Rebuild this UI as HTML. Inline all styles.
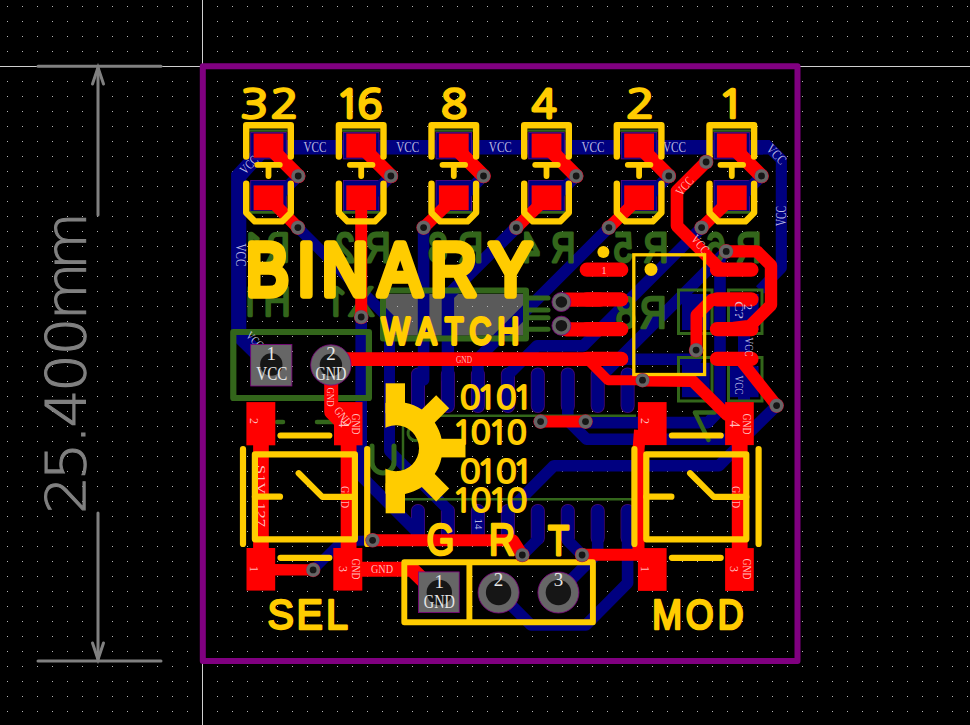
<!DOCTYPE html>
<html><head><meta charset="utf-8"><title>Binary Watch PCB</title>
<style>html,body{margin:0;padding:0;background:#000;overflow:hidden}svg{display:block;font-family:"Liberation Sans",sans-serif}</style>
</head><body>
<svg width="970" height="725" viewBox="0 0 970 725">
<rect width="970" height="725" fill="#000"/>
<defs><pattern id="g" x="202" y="66" width="15" height="15" patternUnits="userSpaceOnUse"><rect x="0" y="0" width="1" height="1" fill="#b4b4b4"/></pattern></defs>
<rect x="385.5" y="294.0" width="62.0" height="41.6" fill="#5A5A5A" />
<rect x="454.0" y="294.0" width="69.2" height="41.6" fill="#5A5A5A" />
<rect width="970" height="725" fill="url(#g)"/>
<rect x="202" y="0" width="1" height="66" fill="#cfcfcf"/><rect x="202" y="661" width="1" height="64" fill="#cfcfcf"/>
<rect x="0" y="66" width="202" height="1" fill="#cfcfcf"/><rect x="798" y="66" width="172" height="1" fill="#cfcfcf"/>
<g id="blue">
<polyline points="418.0,374.5 418.0,406.0" fill="none" stroke="#4a0a7a" stroke-width="14" stroke-linecap="round" stroke-linejoin="round" />
<polyline points="418.0,511.0 418.0,538.0" fill="none" stroke="#4a0a7a" stroke-width="14" stroke-linecap="round" stroke-linejoin="round" />
<polyline points="447.9,374.5 447.9,406.0" fill="none" stroke="#4a0a7a" stroke-width="14" stroke-linecap="round" stroke-linejoin="round" />
<polyline points="447.9,511.0 447.9,538.0" fill="none" stroke="#4a0a7a" stroke-width="14" stroke-linecap="round" stroke-linejoin="round" />
<polyline points="477.9,374.5 477.9,406.0" fill="none" stroke="#4a0a7a" stroke-width="14" stroke-linecap="round" stroke-linejoin="round" />
<polyline points="477.9,511.0 477.9,538.0" fill="none" stroke="#4a0a7a" stroke-width="14" stroke-linecap="round" stroke-linejoin="round" />
<polyline points="507.9,374.5 507.9,406.0" fill="none" stroke="#4a0a7a" stroke-width="14" stroke-linecap="round" stroke-linejoin="round" />
<polyline points="507.9,511.0 507.9,538.0" fill="none" stroke="#4a0a7a" stroke-width="14" stroke-linecap="round" stroke-linejoin="round" />
<polyline points="537.8,374.5 537.8,406.0" fill="none" stroke="#4a0a7a" stroke-width="14" stroke-linecap="round" stroke-linejoin="round" />
<polyline points="537.8,511.0 537.8,538.0" fill="none" stroke="#4a0a7a" stroke-width="14" stroke-linecap="round" stroke-linejoin="round" />
<polyline points="567.8,374.5 567.8,406.0" fill="none" stroke="#4a0a7a" stroke-width="14" stroke-linecap="round" stroke-linejoin="round" />
<polyline points="567.8,511.0 567.8,538.0" fill="none" stroke="#4a0a7a" stroke-width="14" stroke-linecap="round" stroke-linejoin="round" />
<polyline points="597.7,374.5 597.7,406.0" fill="none" stroke="#4a0a7a" stroke-width="14" stroke-linecap="round" stroke-linejoin="round" />
<polyline points="597.7,511.0 597.7,538.0" fill="none" stroke="#4a0a7a" stroke-width="14" stroke-linecap="round" stroke-linejoin="round" />
<polyline points="627.6,374.5 627.6,406.0" fill="none" stroke="#4a0a7a" stroke-width="14" stroke-linecap="round" stroke-linejoin="round" />
<polyline points="627.6,511.0 627.6,538.0" fill="none" stroke="#4a0a7a" stroke-width="14" stroke-linecap="round" stroke-linejoin="round" />
<polyline points="260.5,147.2 763.0,147.2" fill="none" stroke="#000080" stroke-width="14.5" stroke-linecap="butt" stroke-linejoin="round" />
<polygon points="755,140 769.7,140 786.9,157.3 786.9,172 775.8,172 775.8,162 768.4,154.6 755,154.6" fill="#000080"/>
<polyline points="781.3,170.0 781.3,268.0 760.0,290.0" fill="none" stroke="#000080" stroke-width="11.1" stroke-linecap="butt" stroke-linejoin="round" />
<polyline points="262.5,150.0 238.7,176.0 238.7,335.0 268.0,364.0" fill="none" stroke="#000080" stroke-width="15.2" stroke-linecap="butt" stroke-linejoin="miter" />
<rect x="250.7" y="132.4" width="35.6" height="26.5" fill="#000080" stroke="#5a0a8a" stroke-width="0.8"/>
<rect x="250.7" y="180.4" width="35.6" height="31.5" fill="#000080" stroke="#5a0a8a" stroke-width="0.8"/>
<polyline points="298.2,176.0 274.5,199.7" fill="none" stroke="#000080" stroke-width="11.6" stroke-linecap="round" stroke-linejoin="round" />
<rect x="343.4" y="132.4" width="35.6" height="26.5" fill="#000080" stroke="#5a0a8a" stroke-width="0.8"/>
<rect x="343.4" y="180.4" width="35.6" height="31.5" fill="#000080" stroke="#5a0a8a" stroke-width="0.8"/>
<polyline points="390.9,176.0 367.2,199.7" fill="none" stroke="#000080" stroke-width="11.6" stroke-linecap="round" stroke-linejoin="round" />
<rect x="436.0" y="132.4" width="35.6" height="26.5" fill="#000080" stroke="#5a0a8a" stroke-width="0.8"/>
<rect x="436.0" y="180.4" width="35.6" height="31.5" fill="#000080" stroke="#5a0a8a" stroke-width="0.8"/>
<polyline points="483.5,176.0 459.8,199.7" fill="none" stroke="#000080" stroke-width="11.6" stroke-linecap="round" stroke-linejoin="round" />
<rect x="528.7" y="132.4" width="35.6" height="26.5" fill="#000080" stroke="#5a0a8a" stroke-width="0.8"/>
<rect x="528.7" y="180.4" width="35.6" height="31.5" fill="#000080" stroke="#5a0a8a" stroke-width="0.8"/>
<polyline points="576.2,176.0 552.5,199.7" fill="none" stroke="#000080" stroke-width="11.6" stroke-linecap="round" stroke-linejoin="round" />
<rect x="621.3" y="132.4" width="35.6" height="26.5" fill="#000080" stroke="#5a0a8a" stroke-width="0.8"/>
<rect x="621.3" y="180.4" width="35.6" height="31.5" fill="#000080" stroke="#5a0a8a" stroke-width="0.8"/>
<polyline points="668.8,176.0 645.1,199.7" fill="none" stroke="#000080" stroke-width="11.6" stroke-linecap="round" stroke-linejoin="round" />
<rect x="714.0" y="132.4" width="35.6" height="26.5" fill="#000080" stroke="#5a0a8a" stroke-width="0.8"/>
<rect x="714.0" y="180.4" width="35.6" height="31.5" fill="#000080" stroke="#5a0a8a" stroke-width="0.8"/>
<polyline points="761.5,176.0 737.8,199.7" fill="none" stroke="#000080" stroke-width="11.6" stroke-linecap="round" stroke-linejoin="round" />
<polyline points="297.9,227.6 389.5,319.2 389.5,451.0 447.9,509.5 447.9,520.0" fill="none" stroke="#000080" stroke-width="11" stroke-linecap="round" stroke-linejoin="round" />
<polyline points="361.2,317.0 361.2,476.0 414.5,529.3 418.0,533.0" fill="none" stroke="#000080" stroke-width="11.6" stroke-linecap="round" stroke-linejoin="round" />
<polyline points="423.6,227.6 423.6,380.0" fill="none" stroke="#000080" stroke-width="11.6" stroke-linecap="round" stroke-linejoin="round" />
<polyline points="516.3,227.6 447.9,295.3 447.9,380.0" fill="none" stroke="#000080" stroke-width="12.4" stroke-linecap="round" stroke-linejoin="round" />
<polyline points="608.9,227.6 477.9,358.6 477.9,385.0" fill="none" stroke="#000080" stroke-width="11.6" stroke-linecap="round" stroke-linejoin="round" />
<polyline points="701.6,227.6 583.3,345.9 537.0,345.9 507.9,375.0 507.9,385.0" fill="none" stroke="#000080" stroke-width="11.6" stroke-linecap="round" stroke-linejoin="round" />
<polyline points="726.2,251.4 600.0,377.6 597.7,380.0" fill="none" stroke="#000080" stroke-width="11.6" stroke-linecap="round" stroke-linejoin="round" />
<polyline points="720.0,262.0 720.0,410.0 708.0,422.6 585.4,422.6" fill="none" stroke="#000080" stroke-width="11.6" stroke-linecap="round" stroke-linejoin="round" />
<polyline points="418.0,374.5 418.0,406.0" fill="none" stroke="#000080" stroke-width="12.5" stroke-linecap="round" stroke-linejoin="round" />
<polyline points="418.0,511.0 418.0,538.0" fill="none" stroke="#000080" stroke-width="12.5" stroke-linecap="round" stroke-linejoin="round" />
<polyline points="447.9,374.5 447.9,406.0" fill="none" stroke="#000080" stroke-width="12.5" stroke-linecap="round" stroke-linejoin="round" />
<polyline points="447.9,511.0 447.9,538.0" fill="none" stroke="#000080" stroke-width="12.5" stroke-linecap="round" stroke-linejoin="round" />
<polyline points="477.9,374.5 477.9,406.0" fill="none" stroke="#000080" stroke-width="12.5" stroke-linecap="round" stroke-linejoin="round" />
<polyline points="477.9,511.0 477.9,538.0" fill="none" stroke="#000080" stroke-width="12.5" stroke-linecap="round" stroke-linejoin="round" />
<polyline points="507.9,374.5 507.9,406.0" fill="none" stroke="#000080" stroke-width="12.5" stroke-linecap="round" stroke-linejoin="round" />
<polyline points="507.9,511.0 507.9,538.0" fill="none" stroke="#000080" stroke-width="12.5" stroke-linecap="round" stroke-linejoin="round" />
<polyline points="537.8,374.5 537.8,406.0" fill="none" stroke="#000080" stroke-width="12.5" stroke-linecap="round" stroke-linejoin="round" />
<polyline points="537.8,511.0 537.8,538.0" fill="none" stroke="#000080" stroke-width="12.5" stroke-linecap="round" stroke-linejoin="round" />
<polyline points="567.8,374.5 567.8,406.0" fill="none" stroke="#000080" stroke-width="12.5" stroke-linecap="round" stroke-linejoin="round" />
<polyline points="567.8,511.0 567.8,538.0" fill="none" stroke="#000080" stroke-width="12.5" stroke-linecap="round" stroke-linejoin="round" />
<polyline points="597.7,374.5 597.7,406.0" fill="none" stroke="#000080" stroke-width="12.5" stroke-linecap="round" stroke-linejoin="round" />
<polyline points="597.7,511.0 597.7,538.0" fill="none" stroke="#000080" stroke-width="12.5" stroke-linecap="round" stroke-linejoin="round" />
<polyline points="627.6,374.5 627.6,406.0" fill="none" stroke="#000080" stroke-width="12.5" stroke-linecap="round" stroke-linejoin="round" />
<polyline points="627.6,511.0 627.6,538.0" fill="none" stroke="#000080" stroke-width="12.5" stroke-linecap="round" stroke-linejoin="round" />
<polyline points="342.0,541.0 313.0,570.0" fill="none" stroke="#000080" stroke-width="10" stroke-linecap="round" stroke-linejoin="round" />
<polyline points="342.0,541.0 372.6,540.5" fill="none" stroke="#000080" stroke-width="10" stroke-linecap="round" stroke-linejoin="round" />
<rect x="682.0" y="294.0" width="27.7" height="36.0" fill="#000080" />
<rect x="729.7" y="294.0" width="28.9" height="36.0" fill="#000080" />
<rect x="682.0" y="362.8" width="27.7" height="34.4" fill="#000080" />
<rect x="729.7" y="366.2" width="28.9" height="31.0" fill="#000080" />
<polyline points="744.0,320.0 744.0,438.0" fill="none" stroke="#000080" stroke-width="12" stroke-linecap="round" stroke-linejoin="round" />
<polyline points="600.0,359.3 696.1,359.3 696.1,350.0" fill="none" stroke="#000080" stroke-width="11.6" stroke-linecap="round" stroke-linejoin="round" />
<polyline points="567.8,406.0 567.8,420.4 586.5,439.2 742.7,439.2 776.5,405.8" fill="none" stroke="#000080" stroke-width="11.6" stroke-linecap="round" stroke-linejoin="round" />
<polyline points="735.0,449.5 719.0,465.7 554.0,465.7 507.9,512.0" fill="none" stroke="#000080" stroke-width="11.6" stroke-linecap="round" stroke-linejoin="round" />
<polyline points="498.6,592.5 531.0,625.0 586.0,625.0 627.6,583.0 627.6,511.0" fill="none" stroke="#000080" stroke-width="11.6" stroke-linecap="round" stroke-linejoin="round" />
<polyline points="558.4,592.5 597.7,553.2 597.7,511.0" fill="none" stroke="#000080" stroke-width="11.6" stroke-linecap="round" stroke-linejoin="round" />
<polyline points="522.3,555.0 537.8,539.5 537.8,511.0" fill="none" stroke="#000080" stroke-width="11.6" stroke-linecap="round" stroke-linejoin="round" />
<polyline points="582.1,555.0 567.8,540.6 567.8,511.0" fill="none" stroke="#000080" stroke-width="11.6" stroke-linecap="round" stroke-linejoin="round" />
</g>
<g id="green">
<rect x="233.3" y="332" width="135.6" height="66" fill="none" stroke="#33661B" stroke-width="6.2" stroke-linejoin="round"/>
<rect x="383" y="290.5" width="143" height="48" fill="none" stroke="#33661B" stroke-width="6" stroke-linejoin="round"/>
<polyline points="527.0,297.9 548.0,297.9" fill="none" stroke="#33661B" stroke-width="5" stroke-linecap="round" stroke-linejoin="round" />
<polyline points="527.0,310.0 548.0,310.0" fill="none" stroke="#33661B" stroke-width="5" stroke-linecap="round" stroke-linejoin="round" />
<polyline points="527.0,317.7 548.0,317.7" fill="none" stroke="#33661B" stroke-width="5" stroke-linecap="round" stroke-linejoin="round" />
<polyline points="527.0,329.3 548.0,329.3" fill="none" stroke="#33661B" stroke-width="5" stroke-linecap="round" stroke-linejoin="round" />
<polyline points="249.5,130.6 287.5,130.6" fill="none" stroke="#33661B" stroke-width="2.2" stroke-linecap="butt" stroke-linejoin="round" />
<polyline points="249.5,212.4 287.5,212.4" fill="none" stroke="#33661B" stroke-width="2.6" stroke-linecap="butt" stroke-linejoin="round" />
<polyline points="342.2,130.6 380.2,130.6" fill="none" stroke="#33661B" stroke-width="2.2" stroke-linecap="butt" stroke-linejoin="round" />
<polyline points="342.2,212.4 380.2,212.4" fill="none" stroke="#33661B" stroke-width="2.6" stroke-linecap="butt" stroke-linejoin="round" />
<polyline points="434.8,130.6 472.8,130.6" fill="none" stroke="#33661B" stroke-width="2.2" stroke-linecap="butt" stroke-linejoin="round" />
<polyline points="434.8,212.4 472.8,212.4" fill="none" stroke="#33661B" stroke-width="2.6" stroke-linecap="butt" stroke-linejoin="round" />
<polyline points="527.5,130.6 565.5,130.6" fill="none" stroke="#33661B" stroke-width="2.2" stroke-linecap="butt" stroke-linejoin="round" />
<polyline points="527.5,212.4 565.5,212.4" fill="none" stroke="#33661B" stroke-width="2.6" stroke-linecap="butt" stroke-linejoin="round" />
<polyline points="620.1,130.6 658.1,130.6" fill="none" stroke="#33661B" stroke-width="2.2" stroke-linecap="butt" stroke-linejoin="round" />
<polyline points="620.1,212.4 658.1,212.4" fill="none" stroke="#33661B" stroke-width="2.6" stroke-linecap="butt" stroke-linejoin="round" />
<polyline points="712.8,130.6 750.8,130.6" fill="none" stroke="#33661B" stroke-width="2.2" stroke-linecap="butt" stroke-linejoin="round" />
<polyline points="712.8,212.4 750.8,212.4" fill="none" stroke="#33661B" stroke-width="2.6" stroke-linecap="butt" stroke-linejoin="round" />
<text transform="scale(-1.0000,1)" x="-290.72 -264.05" y="261.5" font-family="NanumGothic,'Liberation Sans',sans-serif" font-size="39.4" fill="#33661B" stroke="#33661B" stroke-width="2.65" stroke-linejoin="round" stroke-linecap="round">R1</text>
<text transform="scale(-0.8141,1)" x="-479.71 -435.87" y="261.7" font-size="43.1" fill="#33661B" stroke="#33661B" stroke-width="2.77" stroke-linejoin="round" stroke-linecap="round">R2</text>
<text transform="scale(-0.8011,1)" x="-602.91 -558.32" y="261.7" font-size="43.0" fill="#33661B" stroke="#33661B" stroke-width="2.83" stroke-linejoin="round" stroke-linecap="round">R3</text>
<text transform="scale(-0.7810,1)" x="-736.54 -690.92" y="261.6" font-size="42.8" fill="#33661B" stroke="#33661B" stroke-width="2.94" stroke-linejoin="round" stroke-linecap="round">R4</text>
<text transform="scale(-0.8011,1)" x="-834.26 -789.75" y="261.7" font-size="43.0" fill="#33661B" stroke="#33661B" stroke-width="2.83" stroke-linejoin="round" stroke-linecap="round">R5</text>
<text transform="scale(-0.8100,1)" x="-939.70 -895.81" y="261.7" font-size="43.0" fill="#33661B" stroke="#33661B" stroke-width="2.79" stroke-linejoin="round" stroke-linecap="round">R6</text>
<text transform="scale(-0.8544,1)" x="-780.09 -744.75" y="327.7" font-size="43.5" fill="#33661B" stroke="#33661B" stroke-width="2.56" stroke-linejoin="round" stroke-linecap="round">R8</text>
<text transform="scale(-1.0000,1)" x="-291.48 -263.35" y="315.8" font-family="NanumGothic,'Liberation Sans',sans-serif" font-size="39.4" fill="#33661B" stroke="#33661B" stroke-width="2.65" stroke-linejoin="round" stroke-linecap="round">H1</text>
<text transform="scale(-1.0000,1)" x="-374.47 -349.10" y="315.8" font-family="NanumGothic,'Liberation Sans',sans-serif" font-size="39.4" fill="#33661B" stroke="#33661B" stroke-width="2.65" stroke-linejoin="round" stroke-linecap="round">X1</text>
<polyline points="403.0,415.7 636.0,415.7" fill="none" stroke="#33661B" stroke-width="2.5" stroke-linecap="butt" stroke-linejoin="round" />
<polyline points="403.0,499.3 636.0,499.3" fill="none" stroke="#33661B" stroke-width="2.5" stroke-linecap="butt" stroke-linejoin="round" />
<polyline points="403.0,414.5 403.0,500.5" fill="none" stroke="#33661B" stroke-width="2.5" stroke-linecap="butt" stroke-linejoin="round" />
<path d="M411,427 a7,7 0 0 0 9,12" fill="none" stroke="#33661B" stroke-width="3"/>
<polyline points="277.0,422.0 283.0,422.0" fill="none" stroke="#33661B" stroke-width="4.5" stroke-linecap="round" stroke-linejoin="round" />
<polyline points="317.0,422.0 333.0,422.0" fill="none" stroke="#33661B" stroke-width="4.5" stroke-linecap="round" stroke-linejoin="round" />
<path d="M372,446 V462 a11,11 0 0 0 22,0 V446" fill="none" stroke="#33661B" stroke-width="5" stroke-linecap="round"/>
<rect x="678.5" y="290" width="33.5" height="43.5" fill="none" stroke="#33661B" stroke-width="3"/>
<rect x="678.5" y="357.5" width="33.5" height="43.5" fill="none" stroke="#33661B" stroke-width="3"/>
<rect x="728.5" y="290" width="33.5" height="43.5" fill="none" stroke="#33661B" stroke-width="3"/>
<rect x="728.5" y="357.5" width="33.5" height="43.5" fill="none" stroke="#33661B" stroke-width="3"/>
<polyline points="694.9,412.6 714.7,412.6" fill="none" stroke="#33661B" stroke-width="4.5" stroke-linecap="round" stroke-linejoin="round" />
<polyline points="695.5,413.5 708.5,440.0" fill="none" stroke="#33661B" stroke-width="4.5" stroke-linecap="round" stroke-linejoin="round" />
</g>
<g id="red">
<rect x="253.6" y="133.5" width="29.8" height="24.2" fill="#FF0000" />
<rect x="253.6" y="185.4" width="29.8" height="24.8" fill="#FF0000" />
<polyline points="270.5,148.3 298.2,176.0" fill="none" stroke="#FF0000" stroke-width="14.3" stroke-linecap="round" stroke-linejoin="round" />
<rect x="346.3" y="133.5" width="29.8" height="24.2" fill="#FF0000" />
<rect x="346.3" y="185.4" width="29.8" height="24.8" fill="#FF0000" />
<polyline points="363.2,148.3 390.9,176.0" fill="none" stroke="#FF0000" stroke-width="14.3" stroke-linecap="round" stroke-linejoin="round" />
<rect x="438.9" y="133.5" width="29.8" height="24.2" fill="#FF0000" />
<rect x="438.9" y="185.4" width="29.8" height="24.8" fill="#FF0000" />
<polyline points="455.8,148.3 483.5,176.0" fill="none" stroke="#FF0000" stroke-width="14.3" stroke-linecap="round" stroke-linejoin="round" />
<rect x="531.6" y="133.5" width="29.8" height="24.2" fill="#FF0000" />
<rect x="531.6" y="185.4" width="29.8" height="24.8" fill="#FF0000" />
<polyline points="548.5,148.3 576.2,176.0" fill="none" stroke="#FF0000" stroke-width="14.3" stroke-linecap="round" stroke-linejoin="round" />
<rect x="624.2" y="133.5" width="29.8" height="24.2" fill="#FF0000" />
<rect x="624.2" y="185.4" width="29.8" height="24.8" fill="#FF0000" />
<polyline points="641.1,148.3 668.8,176.0" fill="none" stroke="#FF0000" stroke-width="14.3" stroke-linecap="round" stroke-linejoin="round" />
<rect x="716.9" y="133.5" width="29.8" height="24.2" fill="#FF0000" />
<rect x="716.9" y="185.4" width="29.8" height="24.8" fill="#FF0000" />
<polyline points="733.8,148.3 761.5,176.0" fill="none" stroke="#FF0000" stroke-width="14.3" stroke-linecap="round" stroke-linejoin="round" />
<polyline points="271.5,201.0 297.9,227.6" fill="none" stroke="#FF0000" stroke-width="12.2" stroke-linecap="round" stroke-linejoin="round" />
<polyline points="361.2,200.0 361.2,317.0" fill="none" stroke="#FF0000" stroke-width="12" stroke-linecap="butt" stroke-linejoin="round" />
<polyline points="450.8,201.0 423.6,227.6" fill="none" stroke="#FF0000" stroke-width="12.2" stroke-linecap="round" stroke-linejoin="round" />
<polyline points="543.5,201.0 516.3,227.6" fill="none" stroke="#FF0000" stroke-width="12.2" stroke-linecap="round" stroke-linejoin="round" />
<polyline points="636.1,201.0 608.9,227.6" fill="none" stroke="#FF0000" stroke-width="12.2" stroke-linecap="round" stroke-linejoin="round" />
<polyline points="728.8,201.0 701.6,227.6" fill="none" stroke="#FF0000" stroke-width="12.2" stroke-linecap="round" stroke-linejoin="round" />
<polyline points="347.0,359.1 600.0,359.1 621.0,359.1" fill="none" stroke="#FF0000" stroke-width="13.6" stroke-linecap="round" stroke-linejoin="round" />
<polyline points="331.2,380.0 331.2,412.0 345.0,426.0" fill="none" stroke="#FF0000" stroke-width="14" stroke-linecap="butt" stroke-linejoin="round" />
<rect x="246.4" y="402.1" width="28.9" height="43.2" fill="#FF0000" />
<rect x="334.0" y="402.1" width="28.5" height="43.2" fill="#FF0000" />
<rect x="246.5" y="548.0" width="28.7" height="42.6" fill="#FF0000" />
<rect x="333.3" y="548.0" width="29.0" height="42.6" fill="#FF0000" />
<rect x="253.1" y="445.0" width="15.7" height="104.0" fill="#FF0000" />
<rect x="340.7" y="445.0" width="15.8" height="104.0" fill="#FF0000" />
<polyline points="270.0,569.8 313.1,569.9" fill="none" stroke="#FF0000" stroke-width="11.4" stroke-linecap="butt" stroke-linejoin="round" />
<polyline points="372.6,540.3 513.0,540.3 522.3,555.0" fill="none" stroke="#FF0000" stroke-width="12" stroke-linecap="round" stroke-linejoin="round" />
<polyline points="360.0,569.3 412.0,569.3 432.0,589.0" fill="none" stroke="#FF0000" stroke-width="15" stroke-linecap="butt" stroke-linejoin="round" />
<rect x="637.9" y="402.1" width="28.7" height="43.0" fill="#FF0000" />
<rect x="725.1" y="402.1" width="28.7" height="43.0" fill="#FF0000" />
<rect x="637.9" y="548.1" width="28.7" height="42.8" fill="#FF0000" />
<rect x="725.1" y="548.1" width="28.7" height="42.8" fill="#FF0000" />
<rect x="731.8" y="445.0" width="15.8" height="104.0" fill="#FF0000" />
<polyline points="640.0,430.0 638.5,450.0 638.5,549.0" fill="none" stroke="#FF0000" stroke-width="12" stroke-linecap="butt" stroke-linejoin="round" />
<polyline points="582.1,554.8 640.0,554.8" fill="none" stroke="#FF0000" stroke-width="12" stroke-linecap="butt" stroke-linejoin="round" />
<polyline points="586.8,269.7 621.2,269.7" fill="none" stroke="#FF0000" stroke-width="14.3" stroke-linecap="round" stroke-linejoin="round" />
<polyline points="717.0,269.7 751.4,269.7" fill="none" stroke="#FF0000" stroke-width="14.3" stroke-linecap="round" stroke-linejoin="round" />
<polyline points="586.8,299.4 621.2,299.4" fill="none" stroke="#FF0000" stroke-width="14.3" stroke-linecap="round" stroke-linejoin="round" />
<polyline points="717.0,299.4 751.4,299.4" fill="none" stroke="#FF0000" stroke-width="14.3" stroke-linecap="round" stroke-linejoin="round" />
<polyline points="586.8,329.2 621.2,329.2" fill="none" stroke="#FF0000" stroke-width="14.3" stroke-linecap="round" stroke-linejoin="round" />
<polyline points="717.0,329.2 751.4,329.2" fill="none" stroke="#FF0000" stroke-width="14.3" stroke-linecap="round" stroke-linejoin="round" />
<polyline points="586.8,358.9 621.2,358.9" fill="none" stroke="#FF0000" stroke-width="14.3" stroke-linecap="round" stroke-linejoin="round" />
<polyline points="717.0,358.9 751.4,358.9" fill="none" stroke="#FF0000" stroke-width="14.3" stroke-linecap="round" stroke-linejoin="round" />
<polyline points="566.0,299.6 600.0,299.6" fill="none" stroke="#FF0000" stroke-width="14.3" stroke-linecap="round" stroke-linejoin="round" />
<polyline points="566.0,329.3 600.0,329.3" fill="none" stroke="#FF0000" stroke-width="14.3" stroke-linecap="round" stroke-linejoin="round" />
<polyline points="726.2,251.4 757.0,251.4 771.0,265.4 771.0,305.0 750.0,326.0 734.0,328.0" fill="none" stroke="#FF0000" stroke-width="12.4" stroke-linecap="round" stroke-linejoin="round" />
<polyline points="712.0,299.5 696.5,315.0 696.5,350.0" fill="none" stroke="#FF0000" stroke-width="12" stroke-linecap="round" stroke-linejoin="round" />
<polyline points="740.0,359.3 776.6,405.5" fill="none" stroke="#FF0000" stroke-width="12" stroke-linecap="round" stroke-linejoin="round" />
<polyline points="706.1,162.0 677.0,191.0 677.0,226.0 720.0,269.0 735.0,269.5" fill="none" stroke="#FF0000" stroke-width="12.6" stroke-linecap="round" stroke-linejoin="round" />
<polyline points="590.0,362.0 608.0,380.2 642.5,380.2" fill="none" stroke="#FF0000" stroke-width="10" stroke-linecap="round" stroke-linejoin="round" />
<polyline points="642.5,380.6 692.6,381.0 727.0,415.0" fill="none" stroke="#FF0000" stroke-width="12" stroke-linecap="round" stroke-linejoin="round" />
<polyline points="540.6,421.6 585.5,421.6" fill="none" stroke="#FF0000" stroke-width="12" stroke-linecap="round" stroke-linejoin="round" />
</g>
<rect x="202.8" y="66.2" width="594.7" height="594.7" fill="none" stroke="#800080" stroke-width="6" stroke-linejoin="round"/>
<g id="nettxt" fill-opacity="0.85" font-family="'Liberation Serif', serif" text-anchor="middle"><text x="315.0" y="151.6" font-size="15" textLength="23" lengthAdjust="spacingAndGlyphs" fill="#dcdcf5">VCC</text>
<text x="407.65999999999997" y="151.6" font-size="15" textLength="23" lengthAdjust="spacingAndGlyphs" fill="#dcdcf5">VCC</text>
<text x="500.32" y="151.6" font-size="15" textLength="23" lengthAdjust="spacingAndGlyphs" fill="#dcdcf5">VCC</text>
<text x="592.98" y="151.6" font-size="15" textLength="23" lengthAdjust="spacingAndGlyphs" fill="#dcdcf5">VCC</text>
<text x="674.5" y="151.6" font-size="15" textLength="23" lengthAdjust="spacingAndGlyphs" fill="#dcdcf5">VCC</text>
<text transform="translate(252,168) rotate(-45)" x="0" y="0" font-size="13" textLength="20" lengthAdjust="spacingAndGlyphs" fill="#dcdcf5">VCC</text>
<text transform="translate(773,157.5) rotate(47)" x="0" y="0" font-size="14" textLength="22" lengthAdjust="spacingAndGlyphs" fill="#dcdcf5">VCC</text>
<text transform="translate(235.5,255) rotate(90)" x="0" y="0" font-size="14" textLength="23" lengthAdjust="spacingAndGlyphs" fill="#dcdcf5">VCC</text>
<text transform="translate(785.5,216) rotate(-90)" x="0" y="0" font-size="14" textLength="20" lengthAdjust="spacingAndGlyphs" fill="#dcdcf5">VCC</text>
<text transform="translate(688,189) rotate(-50)" x="0" y="0" font-size="13" textLength="20" lengthAdjust="spacingAndGlyphs" fill="#ffdede">VCC</text>
<text transform="translate(697,247) rotate(50)" x="0" y="0" font-size="13" textLength="20" lengthAdjust="spacingAndGlyphs" fill="#ffdede">VCC</text>
<text x="464" y="363" font-size="10" textLength="16" lengthAdjust="spacingAndGlyphs" fill="#ffdede">GND</text>
<text x="382" y="573" font-size="13" textLength="22" lengthAdjust="spacingAndGlyphs" fill="#ffdede">GND</text>
<text transform="translate(249.5,421) rotate(90)" x="0" y="0" font-size="12" fill="#ffdede">2</text>
<text transform="translate(338.5,424) rotate(90)" x="0" y="0" font-size="14" fill="#ffdede">4</text>
<text transform="translate(351.5,424) rotate(90)" x="0" y="0" font-size="12" textLength="21" lengthAdjust="spacingAndGlyphs" fill="#ffdede">GND</text>
<text transform="translate(341,497) rotate(90)" x="0" y="0" font-size="12" textLength="22" lengthAdjust="spacingAndGlyphs" fill="#ffdede">GND</text>
<text transform="translate(249.5,569) rotate(90)" x="0" y="0" font-size="12" fill="#ffdede">1</text>
<text transform="translate(338.5,569) rotate(90)" x="0" y="0" font-size="12" fill="#ffdede">3</text>
<text transform="translate(351.5,569) rotate(90)" x="0" y="0" font-size="12" textLength="21" lengthAdjust="spacingAndGlyphs" fill="#ffdede">GND</text>
<text transform="translate(640.9,421) rotate(90)" x="0" y="0" font-size="12" fill="#ffdede">2</text>
<text transform="translate(729.9,424) rotate(90)" x="0" y="0" font-size="14" fill="#ffdede">4</text>
<text transform="translate(742.9,424) rotate(90)" x="0" y="0" font-size="12" textLength="21" lengthAdjust="spacingAndGlyphs" fill="#ffdede">GND</text>
<text transform="translate(732.4,497) rotate(90)" x="0" y="0" font-size="12" textLength="22" lengthAdjust="spacingAndGlyphs" fill="#ffdede">GND</text>
<text transform="translate(640.9,569) rotate(90)" x="0" y="0" font-size="12" fill="#ffdede">1</text>
<text transform="translate(729.9,569) rotate(90)" x="0" y="0" font-size="12" fill="#ffdede">3</text>
<text transform="translate(742.9,569) rotate(90)" x="0" y="0" font-size="12" textLength="21" lengthAdjust="spacingAndGlyphs" fill="#ffdede">GND</text>
<text transform="translate(256.5,496) rotate(90)" x="0" y="0" font-size="12" textLength="62" lengthAdjust="spacingAndGlyphs" fill="#ffdede">S1V_127</text>
<text transform="translate(327,397) rotate(90)" x="0" y="0" font-size="11" textLength="19" lengthAdjust="spacingAndGlyphs" fill="#ffdede">GND</text>
<text transform="translate(340,419) rotate(52)" x="0" y="0" font-size="12" textLength="21" lengthAdjust="spacingAndGlyphs" fill="#ffdede">GND</text>
<text transform="translate(252,343) rotate(45)" x="0" y="0" font-size="12" textLength="19" lengthAdjust="spacingAndGlyphs" fill="#dcdcf5">VCC</text>
<text x="604" y="274" font-size="11" fill="#ffdede">1</text>
<text transform="translate(474.5,524) rotate(90)" x="0" y="0" font-size="11" fill="#dcdcf5">14</text>
<text transform="translate(744,307) rotate(90)" x="0" y="0" font-size="12" fill="#dcdcf5">2</text>
<text transform="translate(735,310) rotate(90)" x="0" y="0" font-size="12" textLength="18" lengthAdjust="spacingAndGlyphs" fill="#dcdcf5">C?</text>
<text transform="translate(745,347) rotate(90)" x="0" y="0" font-size="12" textLength="19" lengthAdjust="spacingAndGlyphs" fill="#dcdcf5">VCC</text>
<text transform="translate(735,385) rotate(90)" x="0" y="0" font-size="12" textLength="19" lengthAdjust="spacingAndGlyphs" fill="#dcdcf5">VCC</text></g>
<g id="yellow">
<polyline points="246.2,156.5 246.2,125.3 290.8,125.3 290.8,156.5" fill="none" stroke="#FFCC00" stroke-width="6.4" stroke-linecap="round" stroke-linejoin="round" />
<polyline points="257.2,164.8 279.8,164.8" fill="none" stroke="#FFCC00" stroke-width="5.8" stroke-linecap="round" stroke-linejoin="round" />
<polyline points="268.5,164.8 268.5,176.0" fill="none" stroke="#FFCC00" stroke-width="5.8" stroke-linecap="round" stroke-linejoin="round" />
<polyline points="246.2,183.6 246.2,212.7 254.9,221.4 282.1,221.4 290.8,212.7 290.8,183.6" fill="none" stroke="#FFCC00" stroke-width="6.4" stroke-linecap="round" stroke-linejoin="round" />
<polyline points="338.9,156.5 338.9,125.3 383.5,125.3 383.5,156.5" fill="none" stroke="#FFCC00" stroke-width="6.4" stroke-linecap="round" stroke-linejoin="round" />
<polyline points="349.9,164.8 372.5,164.8" fill="none" stroke="#FFCC00" stroke-width="5.8" stroke-linecap="round" stroke-linejoin="round" />
<polyline points="361.2,164.8 361.2,176.0" fill="none" stroke="#FFCC00" stroke-width="5.8" stroke-linecap="round" stroke-linejoin="round" />
<polyline points="338.9,183.6 338.9,212.7 347.6,221.4 374.8,221.4 383.5,212.7 383.5,183.6" fill="none" stroke="#FFCC00" stroke-width="6.4" stroke-linecap="round" stroke-linejoin="round" />
<polyline points="431.5,156.5 431.5,125.3 476.1,125.3 476.1,156.5" fill="none" stroke="#FFCC00" stroke-width="6.4" stroke-linecap="round" stroke-linejoin="round" />
<polyline points="442.5,164.8 465.1,164.8" fill="none" stroke="#FFCC00" stroke-width="5.8" stroke-linecap="round" stroke-linejoin="round" />
<polyline points="453.8,164.8 453.8,176.0" fill="none" stroke="#FFCC00" stroke-width="5.8" stroke-linecap="round" stroke-linejoin="round" />
<polyline points="431.5,183.6 431.5,212.7 440.2,221.4 467.4,221.4 476.1,212.7 476.1,183.6" fill="none" stroke="#FFCC00" stroke-width="6.4" stroke-linecap="round" stroke-linejoin="round" />
<polyline points="524.2,156.5 524.2,125.3 568.8,125.3 568.8,156.5" fill="none" stroke="#FFCC00" stroke-width="6.4" stroke-linecap="round" stroke-linejoin="round" />
<polyline points="535.2,164.8 557.8,164.8" fill="none" stroke="#FFCC00" stroke-width="5.8" stroke-linecap="round" stroke-linejoin="round" />
<polyline points="546.5,164.8 546.5,176.0" fill="none" stroke="#FFCC00" stroke-width="5.8" stroke-linecap="round" stroke-linejoin="round" />
<polyline points="524.2,183.6 524.2,212.7 532.9,221.4 560.1,221.4 568.8,212.7 568.8,183.6" fill="none" stroke="#FFCC00" stroke-width="6.4" stroke-linecap="round" stroke-linejoin="round" />
<polyline points="616.8,156.5 616.8,125.3 661.4,125.3 661.4,156.5" fill="none" stroke="#FFCC00" stroke-width="6.4" stroke-linecap="round" stroke-linejoin="round" />
<polyline points="627.8,164.8 650.4,164.8" fill="none" stroke="#FFCC00" stroke-width="5.8" stroke-linecap="round" stroke-linejoin="round" />
<polyline points="639.1,164.8 639.1,176.0" fill="none" stroke="#FFCC00" stroke-width="5.8" stroke-linecap="round" stroke-linejoin="round" />
<polyline points="616.8,183.6 616.8,212.7 625.5,221.4 652.7,221.4 661.4,212.7 661.4,183.6" fill="none" stroke="#FFCC00" stroke-width="6.4" stroke-linecap="round" stroke-linejoin="round" />
<polyline points="709.5,156.5 709.5,125.3 754.1,125.3 754.1,156.5" fill="none" stroke="#FFCC00" stroke-width="6.4" stroke-linecap="round" stroke-linejoin="round" />
<polyline points="720.5,164.8 743.1,164.8" fill="none" stroke="#FFCC00" stroke-width="5.8" stroke-linecap="round" stroke-linejoin="round" />
<polyline points="731.8,164.8 731.8,176.0" fill="none" stroke="#FFCC00" stroke-width="5.8" stroke-linecap="round" stroke-linejoin="round" />
<polyline points="709.5,183.6 709.5,212.7 718.2,221.4 745.4,221.4 754.1,212.7 754.1,183.6" fill="none" stroke="#FFCC00" stroke-width="6.4" stroke-linecap="round" stroke-linejoin="round" />
<text transform="scale(0.8677,1)" x="283.39 342.86 371.10 436.42 496.17 563.94" y="295.2" font-size="73.8" fill="#FFCC00" stroke="#FFCC00" stroke-width="7.53" stroke-linejoin="round" stroke-linecap="round">BINARY</text>
<text transform="scale(1.1915,1)" x="201.35 226.72" y="117.9" font-family="NanumGothic,'Liberation Sans',sans-serif" font-size="39.6" fill="#FFCC00" stroke="#FFCC00" stroke-width="2.43" stroke-linejoin="round" stroke-linecap="round">32</text>
<text transform="scale(1.0609,1)" x="316.49 336.87" y="117.7" font-family="NanumGothic,'Liberation Sans',sans-serif" font-size="39.1" fill="#FFCC00" stroke="#FFCC00" stroke-width="2.86" stroke-linejoin="round" stroke-linecap="round">16</text>
<text transform="scale(1.1021,1)" x="400.04" y="117.8" font-family="NanumGothic,'Liberation Sans',sans-serif" font-size="39.3" fill="#FFCC00" stroke="#FFCC00" stroke-width="2.72" stroke-linejoin="round" stroke-linecap="round">8</text>
<text transform="scale(1.0619,1)" x="500.44" y="117.7" font-family="NanumGothic,'Liberation Sans',sans-serif" font-size="39.1" fill="#FFCC00" stroke="#FFCC00" stroke-width="2.86" stroke-linejoin="round" stroke-linecap="round">4</text>
<text transform="scale(1.2101,1)" x="517.02" y="117.9" font-family="NanumGothic,'Liberation Sans',sans-serif" font-size="39.7" fill="#FFCC00" stroke="#FFCC00" stroke-width="2.37" stroke-linejoin="round" stroke-linecap="round">2</text>
<text transform="scale(1.1338,1)" x="633.14" y="117.8" font-family="NanumGothic,'Liberation Sans',sans-serif" font-size="39.4" fill="#FFCC00" stroke="#FFCC00" stroke-width="2.61" stroke-linejoin="round" stroke-linecap="round">1</text>
<text transform="scale(0.7939,1)" x="480.55 524.76 560.65 591.50 626.56" y="344.3" font-size="37.6" fill="#FFCC00" stroke="#FFCC00" stroke-width="3.84" stroke-linejoin="round" stroke-linecap="round">WATCH</text>
<rect x="633.8" y="254.8" width="70.8" height="119.7" fill="none" stroke="#FFCC00" stroke-width="3.3"/>
<circle cx="603.4" cy="251.9" r="6" fill="#FFCC00"/><circle cx="651" cy="269.4" r="6.5" fill="#FFCC00"/>
<polyline points="254.9,454.4 354.9,454.4 354.9,539.3 254.9,539.3 254.9,454.4" fill="none" stroke="#FFCC00" stroke-width="6.2" stroke-linecap="round" stroke-linejoin="round" />
<polyline points="243.0,449.0 243.0,544.0" fill="none" stroke="#FFCC00" stroke-width="6.2" stroke-linecap="round" stroke-linejoin="round" />
<polyline points="367.2,449.0 367.2,544.0" fill="none" stroke="#FFCC00" stroke-width="6.2" stroke-linecap="round" stroke-linejoin="round" />
<polyline points="280.5,435.5 329.3,435.5" fill="none" stroke="#FFCC00" stroke-width="6.2" stroke-linecap="round" stroke-linejoin="round" />
<polyline points="280.5,557.8 329.3,557.8" fill="none" stroke="#FFCC00" stroke-width="6.2" stroke-linecap="round" stroke-linejoin="round" />
<polyline points="254.9,496.7 280.0,496.7" fill="none" stroke="#FFCC00" stroke-width="6.2" stroke-linecap="round" stroke-linejoin="round" />
<polyline points="298.7,473.3 322.3,496.9 354.9,496.9" fill="none" stroke="#FFCC00" stroke-width="6.2" stroke-linecap="round" stroke-linejoin="round" />
<polyline points="646.3,454.4 746.3,454.4 746.3,539.3 646.3,539.3 646.3,454.4" fill="none" stroke="#FFCC00" stroke-width="6.2" stroke-linecap="round" stroke-linejoin="round" />
<polyline points="634.4,449.0 634.4,544.0" fill="none" stroke="#FFCC00" stroke-width="6.2" stroke-linecap="round" stroke-linejoin="round" />
<polyline points="758.6,449.0 758.6,544.0" fill="none" stroke="#FFCC00" stroke-width="6.2" stroke-linecap="round" stroke-linejoin="round" />
<polyline points="671.9,435.5 720.7,435.5" fill="none" stroke="#FFCC00" stroke-width="6.2" stroke-linecap="round" stroke-linejoin="round" />
<polyline points="671.9,557.8 720.7,557.8" fill="none" stroke="#FFCC00" stroke-width="6.2" stroke-linecap="round" stroke-linejoin="round" />
<polyline points="646.3,496.7 671.4,496.7" fill="none" stroke="#FFCC00" stroke-width="6.2" stroke-linecap="round" stroke-linejoin="round" />
<polyline points="690.1,473.3 713.7,496.9 746.3,496.9" fill="none" stroke="#FFCC00" stroke-width="6.2" stroke-linecap="round" stroke-linejoin="round" />
<text transform="scale(0.9246,1)" x="289.32 320.65 352.67" y="629.5" font-size="42.8" fill="#FFCC00" stroke="#FFCC00" stroke-width="2.34" stroke-linejoin="round" stroke-linecap="round">SEL</text>
<text transform="scale(0.8384,1)" x="778.08 818.09 856.04" y="629.3" font-size="42.6" fill="#FFCC00" stroke="#FFCC00" stroke-width="2.70" stroke-linejoin="round" stroke-linecap="round">MOD</text>
<rect x="404.3" y="562.2" width="188.6" height="60" fill="none" stroke="#FFCC00" stroke-width="5.9" stroke-linejoin="round"/>
<polyline points="469.4,562.0 469.4,622.0" fill="none" stroke="#FFCC00" stroke-width="5.9" stroke-linecap="butt" stroke-linejoin="round" />
<text transform="scale(0.8117,1)" x="525.84" y="555.0" font-size="43.5" fill="#FFCC00" stroke="#FFCC00" stroke-width="2.74" stroke-linejoin="round" stroke-linecap="round">G</text>
<text transform="scale(0.8291,1)" x="589.69" y="555.1" font-size="43.7" fill="#FFCC00" stroke="#FFCC00" stroke-width="2.66" stroke-linejoin="round" stroke-linecap="round">R</text>
<text transform="scale(0.7963,1)" x="688.24" y="555.0" font-size="43.4" fill="#FFCC00" stroke="#FFCC00" stroke-width="2.82" stroke-linejoin="round" stroke-linecap="round">T</text>
<clipPath id="gc"><rect x="385.4" y="370" width="120" height="160"/></clipPath>
<g clip-path="url(#gc)" fill="#FFCC00"><path fill-rule="evenodd" d="M349.5,448.3 a46.5,46.5 0 1 0 93,0 a46.5,46.5 0 1 0 -93,0 Z M373,448.3 a23,23 0 1 0 46,0 a23,23 0 1 0 -46,0 Z"/><rect x="385.4" y="383.3" width="19.6" height="30"/><rect x="385.4" y="483.3" width="19.6" height="30"/><rect x="436" y="438.8" width="29.5" height="18.6"/><rect x="436" y="439.1" width="26" height="18.4" transform="rotate(-45 396 448.3)"/><rect x="436" y="439.1" width="26" height="18.4" transform="rotate(45 396 448.3)"/></g>
<text transform="scale(1.0500,1)" x="437.97 453.75 472.16 488.13" y="409.1" font-family="NanumGothic,'Liberation Sans',sans-serif" font-size="32.9" fill="#FFCC00" stroke="#FFCC00" stroke-width="2.00" stroke-linejoin="round" stroke-linecap="round">0101</text>
<text transform="scale(1.0500,1)" x="430.90 448.46 465.09 482.75" y="444.2" font-family="NanumGothic,'Liberation Sans',sans-serif" font-size="31.5" fill="#FFCC00" stroke="#FFCC00" stroke-width="2.11" stroke-linejoin="round" stroke-linecap="round">1010</text>
<text transform="scale(1.0500,1)" x="437.97 453.75 472.16 488.13" y="482.6" font-family="NanumGothic,'Liberation Sans',sans-serif" font-size="32.9" fill="#FFCC00" stroke="#FFCC00" stroke-width="2.00" stroke-linejoin="round" stroke-linecap="round">0101</text>
<text transform="scale(1.0500,1)" x="430.46 448.06 464.65 482.35" y="512.5" font-family="NanumGothic,'Liberation Sans',sans-serif" font-size="32.8" fill="#FFCC00" stroke="#FFCC00" stroke-width="2.01" stroke-linejoin="round" stroke-linecap="round">1010</text>
</g>
<g id="vias">
<circle cx="298.2" cy="176.0" r="7.3" fill="#c01030"/><circle cx="298.2" cy="176.0" r="6.8" fill="#666666"/><circle cx="298.2" cy="176.0" r="3.4" fill="#161616"/>
<circle cx="390.9" cy="176.0" r="7.3" fill="#c01030"/><circle cx="390.9" cy="176.0" r="6.8" fill="#666666"/><circle cx="390.9" cy="176.0" r="3.4" fill="#161616"/>
<circle cx="483.5" cy="176.0" r="7.3" fill="#c01030"/><circle cx="483.5" cy="176.0" r="6.8" fill="#666666"/><circle cx="483.5" cy="176.0" r="3.4" fill="#161616"/>
<circle cx="576.2" cy="176.0" r="7.3" fill="#c01030"/><circle cx="576.2" cy="176.0" r="6.8" fill="#666666"/><circle cx="576.2" cy="176.0" r="3.4" fill="#161616"/>
<circle cx="668.8" cy="176.0" r="7.3" fill="#c01030"/><circle cx="668.8" cy="176.0" r="6.8" fill="#666666"/><circle cx="668.8" cy="176.0" r="3.4" fill="#161616"/>
<circle cx="761.5" cy="176.0" r="7.3" fill="#c01030"/><circle cx="761.5" cy="176.0" r="6.8" fill="#666666"/><circle cx="761.5" cy="176.0" r="3.4" fill="#161616"/>
<circle cx="297.9" cy="227.6" r="7.3" fill="#c01030"/><circle cx="297.9" cy="227.6" r="6.8" fill="#666666"/><circle cx="297.9" cy="227.6" r="3.4" fill="#161616"/>
<circle cx="361.2" cy="317.0" r="7.3" fill="#c01030"/><circle cx="361.2" cy="317.0" r="6.8" fill="#666666"/><circle cx="361.2" cy="317.0" r="3.4" fill="#161616"/>
<circle cx="423.6" cy="227.6" r="7.3" fill="#c01030"/><circle cx="423.6" cy="227.6" r="6.8" fill="#666666"/><circle cx="423.6" cy="227.6" r="3.4" fill="#161616"/>
<circle cx="516.3" cy="227.6" r="7.3" fill="#c01030"/><circle cx="516.3" cy="227.6" r="6.8" fill="#666666"/><circle cx="516.3" cy="227.6" r="3.4" fill="#161616"/>
<circle cx="608.9" cy="227.6" r="7.3" fill="#c01030"/><circle cx="608.9" cy="227.6" r="6.8" fill="#666666"/><circle cx="608.9" cy="227.6" r="3.4" fill="#161616"/>
<circle cx="701.6" cy="227.6" r="7.3" fill="#c01030"/><circle cx="701.6" cy="227.6" r="6.8" fill="#666666"/><circle cx="701.6" cy="227.6" r="3.4" fill="#161616"/>
<circle cx="706.1" cy="162.0" r="7.3" fill="#c01030"/><circle cx="706.1" cy="162.0" r="6.8" fill="#666666"/><circle cx="706.1" cy="162.0" r="3.4" fill="#161616"/>
<circle cx="726.2" cy="251.4" r="7.3" fill="#c01030"/><circle cx="726.2" cy="251.4" r="6.8" fill="#666666"/><circle cx="726.2" cy="251.4" r="3.4" fill="#161616"/>
<circle cx="696.1" cy="350.1" r="7.3" fill="#c01030"/><circle cx="696.1" cy="350.1" r="6.8" fill="#666666"/><circle cx="696.1" cy="350.1" r="3.4" fill="#161616"/>
<circle cx="776.6" cy="405.6" r="7.3" fill="#c01030"/><circle cx="776.6" cy="405.6" r="6.8" fill="#666666"/><circle cx="776.6" cy="405.6" r="3.4" fill="#161616"/>
<circle cx="313.1" cy="569.9" r="7.3" fill="#c01030"/><circle cx="313.1" cy="569.9" r="6.8" fill="#666666"/><circle cx="313.1" cy="569.9" r="3.4" fill="#161616"/>
<circle cx="372.6" cy="540.3" r="7.3" fill="#c01030"/><circle cx="372.6" cy="540.3" r="6.8" fill="#666666"/><circle cx="372.6" cy="540.3" r="3.4" fill="#161616"/>
<circle cx="522.3" cy="555.0" r="7.3" fill="#c01030"/><circle cx="522.3" cy="555.0" r="6.8" fill="#666666"/><circle cx="522.3" cy="555.0" r="3.4" fill="#161616"/>
<circle cx="582.1" cy="555.0" r="7.3" fill="#c01030"/><circle cx="582.1" cy="555.0" r="6.8" fill="#666666"/><circle cx="582.1" cy="555.0" r="3.4" fill="#161616"/>
<circle cx="540.6" cy="421.6" r="7.3" fill="#c01030"/><circle cx="540.6" cy="421.6" r="6.8" fill="#666666"/><circle cx="540.6" cy="421.6" r="3.4" fill="#161616"/>
<circle cx="585.5" cy="421.6" r="7.3" fill="#c01030"/><circle cx="585.5" cy="421.6" r="6.8" fill="#666666"/><circle cx="585.5" cy="421.6" r="3.4" fill="#161616"/>
<circle cx="642.5" cy="380.2" r="7.3" fill="#c01030"/><circle cx="642.5" cy="380.2" r="6.8" fill="#666666"/><circle cx="642.5" cy="380.2" r="3.4" fill="#161616"/>
<circle cx="561.4" cy="302" r="9.5" fill="#666666" stroke="#800080" stroke-width="0.8"/><circle cx="561.4" cy="302" r="5.8" fill="#161616"/>
<circle cx="561.4" cy="325.7" r="9.5" fill="#666666" stroke="#800080" stroke-width="0.8"/><circle cx="561.4" cy="325.7" r="5.8" fill="#161616"/>
<rect x="250.7" y="344.5" width="41.2" height="41.5" fill="#666666" stroke="#800080" stroke-width="0.8"/><circle cx="271.3" cy="364.5" r="11.2" fill="#161616"/>
<circle cx="330.9" cy="365" r="20.2" fill="#666666" stroke="#800080" stroke-width="0.8"/><circle cx="330.9" cy="365" r="11.2" fill="#161616"/>
<rect x="418.5" y="571.9" width="40.7" height="40.7" fill="#666666" stroke="#800080" stroke-width="0.8"/><circle cx="439.3" cy="592.5" r="12.7" fill="#161616"/>
<circle cx="498.6" cy="592.5" r="20.5" fill="#666666" stroke="#800080" stroke-width="0.8"/><circle cx="498.6" cy="592.5" r="12.7" fill="#161616"/>
<circle cx="558.4" cy="592.5" r="20.5" fill="#666666" stroke="#800080" stroke-width="0.8"/><circle cx="558.4" cy="592.5" r="12.7" fill="#161616"/>
</g>
<g id="txt" font-family="'Liberation Serif', serif" fill="#e8e8e8" text-anchor="middle">
<text x="271.3" y="360.2" font-size="19">1</text>
<text x="271.8" y="380.3" font-size="19" textLength="31" lengthAdjust="spacingAndGlyphs">VCC</text>
<text x="330.9" y="360.2" font-size="19">2</text>
<text x="330.9" y="380.3" font-size="19" textLength="31" lengthAdjust="spacingAndGlyphs">GND</text>
<text x="439.3" y="587.5" font-size="19">1</text>
<text x="439.3" y="607.5" font-size="19" textLength="31" lengthAdjust="spacingAndGlyphs">GND</text>
<text x="498.6" y="586" font-size="19">2</text>
<text x="558.4" y="586" font-size="19">3</text>
</g>
<g stroke="#808080" stroke-width="3" stroke-linecap="round" fill="none">
<line x1="38" y1="66.3" x2="161" y2="66.3"/><line x1="38" y1="661" x2="161" y2="661"/>
<line x1="98" y1="68" x2="98" y2="215"/><line x1="98" y1="513" x2="98" y2="659"/>
<polyline points="92.5,84 98,67.5 103.5,84"/><polyline points="92.5,643 98,659.5 103.5,643"/>
</g>
<text transform="translate(85,510) rotate(-90) scale(1.1,1)" x="-3.64 26.92 60.03 75.01 107.35 140.44 172.31 217.86" y="0" font-family="'DejaVu Sans Light','DejaVu Sans',sans-serif" font-weight="200" font-size="54.5" fill="#808080" stroke="#808080" stroke-width="1.0">25.400mm</text>
</svg>
</body></html>
